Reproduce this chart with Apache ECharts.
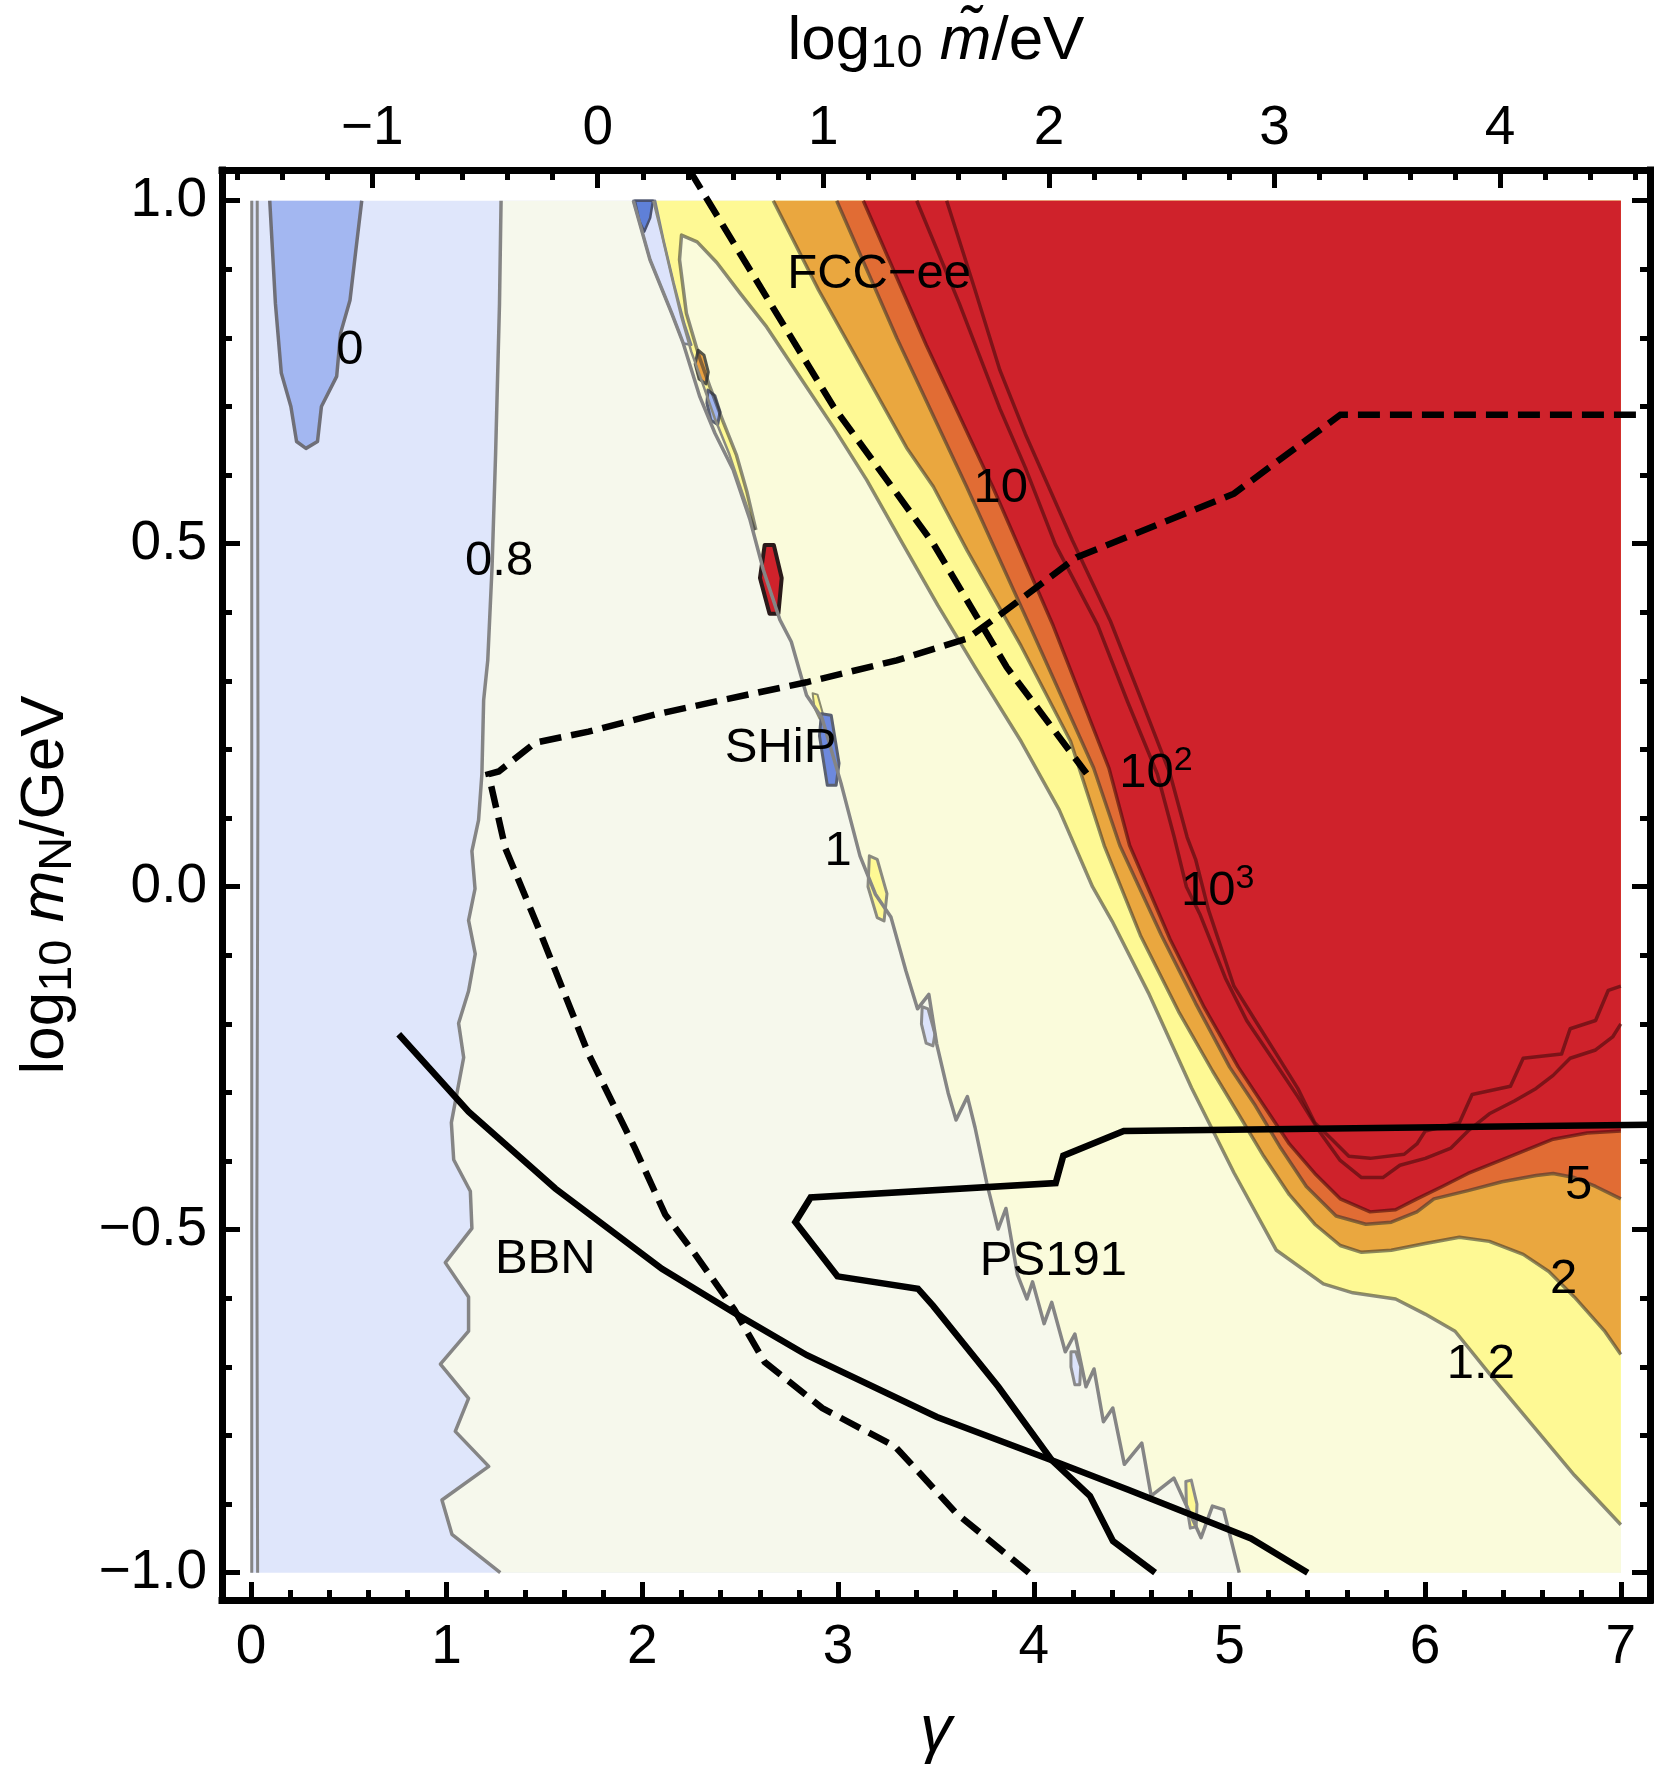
<!DOCTYPE html>
<html>
<head>
<meta charset="utf-8">
<script src="https://cdn.jsdelivr.net/npm/echarts@6.0.0/dist/echarts.min.js"></script>
<style>
html, body { margin: 0; padding: 0; background: #fff; }
#chart { width: 1667px; height: 1778px; }
</style>
</head>
<body>
<div id="chart"></div>
<script>
// axis ranges (frame edges, in data units)
var gammaRange = [-0.148, 7.149];
var logmRange = [-1.0398, 1.0448];
// top axis: gamma = topZero + topStep * log10(m~/eV)
var topZero = 1.772, topStep = 1.1528;

var xMajorTicks = [0, 1, 2, 3, 4, 5, 6, 7];
var yMajorTicks = [-1, -0.5, 0, 0.5, 1];
var topMajorTicks = [-1, 0, 1, 2, 3, 4];

// data box of the contour plot
var box = [[0, 1], [7, 1], [7, -1], [0, -1]];

// contour boundaries: [gamma, log10 mN]
var tongue0 = [[0.096,1.0],[0.125,0.85],[0.155,0.749],[0.204,0.70],[0.233,0.649],[0.281,0.639],[0.34,0.649],[0.36,0.70],[0.438,0.744],[0.458,0.807],[0.506,0.855],[0.536,0.928],[0.566,1.0]];
var line08 = [[1.278,1.0],[1.27,0.85],[1.25,0.63],[1.232,0.466],[1.21,0.33],[1.189,0.272],[1.18,0.164],[1.163,0.097],[1.129,0.052],[1.145,-0.003],[1.112,-0.049],[1.146,-0.098],[1.112,-0.152],[1.061,-0.199],[1.087,-0.249],[1.024,-0.344],[1.036,-0.398],[1.121,-0.444],[1.129,-0.498],[0.993,-0.548],[1.112,-0.598],[1.112,-0.648],[0.968,-0.696],[1.112,-0.746],[1.044,-0.794],[1.215,-0.845],[0.976,-0.894],[1.027,-0.944],[1.274,-1.0]];
var line1 = [[1.954,1.0],[2.039,0.914],[2.15,0.836],[2.209,0.792],[2.294,0.714],[2.371,0.661],[2.465,0.607],[2.55,0.535],[2.618,0.462],[2.703,0.389],[2.761,0.357],[2.839,0.279],[2.918,0.246],[3.015,0.151],[3.112,0.045],[3.191,-0.011],[3.27,-0.044],[3.347,-0.123],[3.406,-0.178],[3.464,-0.157],[3.504,-0.229],[3.563,-0.301],[3.603,-0.34],[3.661,-0.306],[3.70,-0.351],[3.76,-0.432],[3.818,-0.499],[3.858,-0.469],[3.916,-0.565],[3.965,-0.601],[3.994,-0.576],[4.053,-0.637],[4.092,-0.606],[4.161,-0.678],[4.21,-0.652],[4.267,-0.729],[4.308,-0.703],[4.356,-0.78],[4.404,-0.76],[4.463,-0.842],[4.552,-0.811],[4.60,-0.888],[4.716,-0.862],[4.855,-0.949],[4.913,-0.903],[4.97,-0.908],[5.05,-1.0]];
var stripRight = [[2.056,1.0],[2.10,0.95],[2.145,0.895],[2.20,0.83],[2.25,0.78],[2.30,0.74],[2.37,0.683],[2.445,0.63],[2.51,0.575],[2.575,0.52]];
var tongueLeft = [[2.20,0.95],[2.19,0.914],[2.225,0.836],[2.29,0.773],[2.345,0.729],[2.41,0.68],[2.48,0.63],[2.535,0.575],[2.58,0.52]];
var line12 = [[2.20,0.95],[2.28,0.94],[2.38,0.91],[2.50,0.865],[2.635,0.816],[2.805,0.743],[2.976,0.67],[3.146,0.593],[3.33,0.50],[3.51,0.41],[3.70,0.32],[3.935,0.212],[4.13,0.112],[4.30,0.0],[4.40,-0.05],[4.59,-0.157],[4.806,-0.293],[5.023,-0.417],[5.24,-0.53],[5.48,-0.579],[5.631,-0.592],[5.849,-0.601],[6.0,-0.623],[6.153,-0.648],[6.326,-0.709],[6.546,-0.784],[6.763,-0.858],[7.0,-0.93]];
var line2 = [[2.669,1.0],[2.90,0.87],[3.129,0.753],[3.35,0.64],[3.487,0.583],[3.66,0.49],[3.935,0.351],[4.188,0.212],[4.36,0.06],[4.545,-0.071],[4.74,-0.182],[4.914,-0.269],[5.045,-0.331],[5.175,-0.393],[5.306,-0.449],[5.436,-0.492],[5.566,-0.523],[5.675,-0.533],[5.827,-0.53],[6.001,-0.52],[6.175,-0.511],[6.328,-0.517],[6.501,-0.536],[6.632,-0.561],[6.762,-0.598],[6.915,-0.647],[7.0,-0.682]];
var line5 = [[2.993,1.0],[3.30,0.80],[3.657,0.583],[3.98,0.38],[4.306,0.173],[4.44,0.06],[4.653,-0.071],[4.827,-0.17],[5.001,-0.263],[5.132,-0.319],[5.262,-0.381],[5.393,-0.437],[5.545,-0.48],[5.697,-0.492],[5.827,-0.489],[5.958,-0.474],[6.045,-0.455],[6.219,-0.443],[6.393,-0.43],[6.567,-0.421],[6.654,-0.418],[6.762,-0.424],[6.871,-0.437],[7.0,-0.455]];
var line10 = [[3.129,1.0],[3.45,0.79],[3.79,0.583],[4.10,0.38],[4.384,0.173],[4.49,0.06],[4.697,-0.077],[4.871,-0.176],[5.045,-0.263],[5.175,-0.319],[5.306,-0.375],[5.436,-0.418],[5.566,-0.455],[5.719,-0.474],[5.849,-0.471],[5.958,-0.455],[6.088,-0.437],[6.219,-0.418],[6.436,-0.393],[6.654,-0.368],[6.828,-0.359],[7.0,-0.356]];
var line100 = [[3.402,1.0],[3.62,0.85],[3.827,0.697],[3.957,0.611],[4.11,0.499],[4.327,0.381],[4.479,0.27],[4.632,0.164],[4.718,0.072],[4.78,0.0],[4.849,-0.04],[4.979,-0.133],[5.088,-0.195],[5.218,-0.25],[5.349,-0.306],[5.458,-0.356],[5.566,-0.399],[5.675,-0.424],[5.784,-0.424],[5.871,-0.406],[6.001,-0.396],[6.132,-0.381],[6.219,-0.356],[6.328,-0.331],[6.458,-0.312],[6.567,-0.294],[6.654,-0.275],[6.741,-0.25],[6.871,-0.238],[6.958,-0.219],[7.0,-0.2]];
var line1000 = [[3.555,1.0],[3.70,0.87],[3.827,0.753],[3.957,0.66],[4.197,0.505],[4.392,0.387],[4.545,0.276],[4.697,0.164],[4.784,0.072],[4.827,0.04],[4.892,-0.033],[5.023,-0.145],[5.132,-0.195],[5.24,-0.244],[5.349,-0.294],[5.436,-0.344],[5.523,-0.368],[5.61,-0.393],[5.719,-0.396],[5.893,-0.39],[5.958,-0.375],[6.001,-0.356],[6.175,-0.344],[6.24,-0.303],[6.436,-0.291],[6.501,-0.25],[6.697,-0.244],[6.741,-0.207],[6.871,-0.195],[6.936,-0.151],[7.0,-0.145]];
var edgeLineA = [[0.004,1.0],[0.004,-1.0]];
var edgeLineB = [[0.032,1.0],[0.036,0.2],[0.03,-0.5],[0.034,-1.0]];

// numerical blobs along the "1" contour
var stripBlue = [[1.954,1.0],[2.065,1.0],[2.11,0.94],[2.16,0.88],[2.215,0.82],[2.25,0.79],[2.209,0.792],[2.15,0.836],[2.039,0.914]];
var blobTopDark = [[1.962,1.0],[2.054,1.0],[2.04,0.975],[2.01,0.955],[1.985,0.97]];
var blobOrange = [[2.285,0.782],[2.315,0.775],[2.337,0.75],[2.325,0.733],[2.29,0.74],[2.27,0.762]];
var blobBlue1 = [[2.335,0.724],[2.37,0.716],[2.397,0.692],[2.385,0.674],[2.35,0.68],[2.33,0.705]];
var blobRed = [[2.625,0.498],[2.672,0.498],[2.712,0.45],[2.695,0.398],[2.65,0.398],[2.601,0.45]];
var blobShipYellow = [[2.87,0.282],[2.895,0.28],[2.925,0.25],[2.905,0.245],[2.88,0.26]];
var blobShip = [[2.915,0.252],[2.965,0.25],[3.005,0.18],[2.99,0.148],[2.945,0.148],[2.905,0.22]];
var blobYellow1 = [[3.16,0.045],[3.2,0.04],[3.25,-0.01],[3.235,-0.05],[3.2,-0.045],[3.153,0.0]];
var blobBlue2 = [[3.43,-0.175],[3.46,-0.178],[3.495,-0.215],[3.485,-0.232],[3.45,-0.228],[3.426,-0.2]];
var blobBlue3 = [[4.19,-0.678],[4.215,-0.678],[4.24,-0.70],[4.235,-0.726],[4.21,-0.726],[4.19,-0.70]];
var blobYellow2 = [[4.777,-0.867],[4.805,-0.865],[4.834,-0.9],[4.83,-0.933],[4.8,-0.935],[4.78,-0.9]];

// experiment curves
var fccDash = [[2.24,1.045],[2.499,0.923],[2.976,0.70],[3.487,0.50],[3.862,0.32],[4.27,0.165]];
var shipDash = [[3.975,-1.0],[3.603,-0.913],[3.408,-0.852],[3.291,-0.816],[2.919,-0.76],[2.625,-0.693],[2.469,-0.616],[2.27,-0.536],[2.117,-0.478],[1.96,-0.38],[1.725,-0.244],[1.47,-0.061],[1.30,0.056],[1.214,0.164],[1.266,0.168],[1.453,0.21],[1.725,0.226],[2.066,0.251],[2.407,0.272],[2.839,0.298],[3.30,0.33],[3.661,0.362],[3.83,0.397],[4.218,0.48],[5.023,0.573],[5.567,0.688],[7.08,0.688]];
var bbnLine = [[0.755,-0.215],[1.112,-0.328],[1.555,-0.44],[2.10,-0.557],[2.469,-0.621],[2.841,-0.683],[3.505,-0.773],[4.092,-0.836],[4.483,-0.879],[5.11,-0.95],[5.40,-1.0]];
var ps191Line = [[7.14,-0.347],[4.46,-0.356],[4.151,-0.392],[4.112,-0.432],[2.86,-0.453],[2.782,-0.489],[2.997,-0.568],[3.408,-0.586],[3.486,-0.611],[3.819,-0.729],[4.092,-0.836],[4.287,-0.888],[4.405,-0.954],[4.62,-1.0]];

var labelData = [
  [0.506, 0.782, '0'],
  [1.268, 0.474, '0.8'],
  [3.0, 0.052, '1'],
  [6.285, -0.697, '1.2'],
  [6.708, -0.573, '2'],
  [6.784, -0.436, '5'],
  [3.832, 0.581, '10'],
  [4.624, 0.165, '{b|10}{p|2}'],
  [4.94, -0.007, '{b|10}{p|3}'],
  [3.21, 0.892, 'FCC\u2212ee'],
  [2.706, 0.202, 'SHiP'],
  [1.504, -0.544, 'BBN'],
  [4.10, -0.547, 'PS191']
];

var FONT = 'Liberation Sans, Arial, Helvetica, sans-serif';

function stepTicks(from, to, step, skip) {
  var out = [];
  for (var v = from; v <= to + 1e-9; v += step) {
    var r = Math.round(v * 10) / 10;
    if (skip.indexOf(r) < 0) out.push(r);
  }
  return out;
}
function minus(s) { return String(s).replace('-', '\u2212'); }

var xMinorTicks = stepTicks(0, 7, 0.2, xMajorTicks);
var yMinorTicks = stepTicks(-1, 1, 0.1, yMajorTicks);
var topMinorTicks = stepTicks(-1.6, 4.6, 0.2, topMajorTicks);

function concatPts() {
  var out = [];
  for (var i = 0; i < arguments.length; i++) out = out.concat(arguments[i]);
  return out;
}

var regions = [
  { pts: box, fill: '#dfe6fb' },
  { pts: tongue0, fill: '#a3b7f1' },
  { pts: concatPts(line08, [[7, -1], [7, 1]]), fill: '#f6f8ec' },
  { pts: concatPts(line1, [[7, -1], [7, 1]]), fill: '#fafbdb' },
  { pts: concatPts(stripRight, tongueLeft.slice().reverse(), line12.slice(1), [[7, 1]]), fill: '#fef994' },
  { pts: concatPts(line2, [[7, 1]]), fill: '#eaa73f' },
  { pts: concatPts(line5, [[7, 1]]), fill: '#e16c34' },
  { pts: concatPts(line10, [[7, 1]]), fill: '#cf222b' },
  { pts: stripBlue, fill: '#dce3fb', stroke: '#7a7f8c', lw: 2.5 },
  { pts: blobTopDark, fill: '#5f80d8', stroke: '#4a5270', lw: 2.5 },
  { pts: blobOrange, fill: '#eaa140', stroke: '#55554a', lw: 3 },
  { pts: blobBlue1, fill: '#9fb4ef', stroke: '#5a6070', lw: 3 },
  { pts: blobRed, fill: '#cf222b', stroke: '#2a1a1a', lw: 4 },
  { pts: blobShipYellow, fill: '#fef994', stroke: '#8a8a70', lw: 2 },
  { pts: blobShip, fill: '#6d89de', stroke: '#5a6070', lw: 3 },
  { pts: blobYellow1, fill: '#fef994', stroke: '#8a8a80', lw: 3 },
  { pts: blobBlue2, fill: '#dce3fb', stroke: '#8a8a8a', lw: 3 },
  { pts: blobBlue3, fill: '#dce3fb', stroke: '#8a8a8a', lw: 3 },
  { pts: blobYellow2, fill: '#fef994', stroke: '#8a8a8a', lw: 3 }
];

function contour(data, color, width) {
  return {
    type: 'line', data: data, showSymbol: false, symbol: 'none', silent: true, z: 3,
    lineStyle: { color: color, width: width, join: 'round' }
  };
}
function curve(data, dashed) {
  return {
    type: 'line', data: data, showSymbol: false, symbol: 'none', silent: true, z: 5,
    lineStyle: { color: '#000', width: 6.5, type: dashed ? [22, 10] : 'solid', join: 'miter' }
  };
}

var lightLine = '#858585';
var darkLine = 'rgba(45,45,45,0.55)';
var redLine = 'rgba(70,10,12,0.6)';

var majorTick = { show: true, inside: true, length: 18, lineStyle: { color: '#000', width: 5 } };
var minorTick = { show: true, inside: true, length: 10, lineStyle: { color: '#000', width: 5 } };
var frameLine = { show: true, onZero: false, lineStyle: { color: '#000', width: 7, cap: 'square' } };

function axisBase(extra) {
  var a = { type: 'value', splitLine: { show: false }, axisLine: { show: false, onZero: false }, axisTick: { show: false }, axisLabel: { show: false } };
  for (var k in extra) a[k] = extra[k];
  return a;
}
function withValues(style, values) {
  var o = {};
  for (var k in style) o[k] = style[k];
  o.customValues = values;
  return o;
}

var titleRich = {
  a: { fontSize: 62, fontFamily: FONT, color: '#000', lineHeight: 72 },
  s: { fontSize: 47, fontFamily: FONT, color: '#000', lineHeight: 33, verticalAlign: 'bottom' },
  i: { fontSize: 62, fontFamily: FONT, fontStyle: 'italic', color: '#000', lineHeight: 72 }
};

var topMin = (gammaRange[0] - topZero) / topStep;
var topMax = (gammaRange[1] - topZero) / topStep;

var option = {
  animation: false,
  backgroundColor: '#fff',
  grid: { left: 222, right: 17, top: 170, bottom: 178, outerBoundsMode: 'none', containLabel: false },
  xAxis: [
    axisBase({
      position: 'bottom', min: gammaRange[0], max: gammaRange[1],
      axisLine: frameLine,
      axisTick: withValues(majorTick, xMajorTicks),
      axisLabel: withValues({ show: true, margin: 20, color: '#000', fontSize: 55, fontFamily: FONT, formatter: function (v) { return minus(v); } }, xMajorTicks),
      name: 'γ', nameLocation: 'middle', nameGap: 100,
      nameTextStyle: { fontSize: 64, fontStyle: 'italic', fontFamily: FONT, color: '#000' }
    }),
    axisBase({ position: 'bottom', min: gammaRange[0], max: gammaRange[1], axisTick: withValues(minorTick, xMinorTicks) }),
    axisBase({
      position: 'top', min: topMin, max: topMax,
      axisLine: frameLine,
      axisTick: withValues(majorTick, topMajorTicks),
      axisLabel: withValues({ show: true, margin: 14, color: '#000', fontSize: 55, fontFamily: FONT, formatter: function (v) { return minus(v); } }, topMajorTicks),
      name: '{a|log}{s|10}{a| }{i|m\u0303}{a|/eV}', nameLocation: 'middle', nameGap: 92,
      nameTextStyle: { rich: titleRich }
    }),
    axisBase({ position: 'top', min: topMin, max: topMax, axisTick: withValues(minorTick, topMinorTicks) })
  ],
  yAxis: [
    axisBase({
      position: 'left', min: logmRange[0], max: logmRange[1],
      axisLine: frameLine,
      axisTick: withValues(majorTick, yMajorTicks),
      axisLabel: withValues({ show: true, margin: 15, color: '#000', fontSize: 55, fontFamily: FONT, formatter: function (v) { return minus(v.toFixed(1)); } }, yMajorTicks),
      name: '{a|log}{s|10}{a| }{i|m}{s|N}{a|/GeV}', nameLocation: 'middle', nameGap: 140, nameRotate: 90,
      nameTextStyle: { rich: titleRich }
    }),
    axisBase({ position: 'left', min: logmRange[0], max: logmRange[1], axisTick: withValues(minorTick, yMinorTicks) }),
    axisBase({ position: 'right', min: logmRange[0], max: logmRange[1], axisLine: frameLine, axisTick: withValues(majorTick, yMajorTicks) }),
    axisBase({ position: 'right', min: logmRange[0], max: logmRange[1], axisTick: withValues(minorTick, yMinorTicks) })
  ],
  series: [
    {
      type: 'custom', silent: true, z: 1,
      data: regions.map(function () { return [1, 0]; }),
      renderItem: function (params, api) {
        var r = regions[params.dataIndex];
        var pts = r.pts.map(function (d) { return api.coord(d); });
        return {
          type: 'polygon',
          shape: { points: pts },
          style: { fill: r.fill, stroke: r.stroke || null, lineWidth: r.lw || 0, lineJoin: 'round' }
        };
      }
    },
    contour(edgeLineA, lightLine, 3),
    contour(edgeLineB, lightLine, 3),
    contour(tongue0, '#6f6f78', 3.5),
    contour(line08, lightLine, 3.5),
    contour(line1, lightLine, 3.5),
    contour(stripRight, '#8a8a80', 2.5),
    contour(concatPts(tongueLeft.slice().reverse(), line12.slice(1)), darkLine, 3.5),
    contour(line2, darkLine, 3.5),
    contour(line5, darkLine, 3.5),
    contour(line10, redLine, 3.5),
    contour(line100, redLine, 3.5),
    contour(line1000, redLine, 3.5),
    curve(fccDash, true),
    curve(shipDash, true),
    curve(bbnLine, false),
    curve(ps191Line, false),
    {
      // contour and experiment labels as plain text elements at data coordinates
      type: 'custom', silent: true, z: 8,
      data: labelData,
      renderItem: function (params, api) {
        var d = labelData[params.dataIndex];
        var p = api.coord([d[0], d[1]]);
        return {
          type: 'text',
          x: p[0], y: p[1],
          style: {
            text: d[2], fill: '#000', fontSize: 49, fontFamily: FONT,
            align: 'center', verticalAlign: 'middle',
            rich: {
              b: { fontSize: 49, fontFamily: FONT, fill: '#000', lineHeight: 60 },
              p: { fontSize: 34, fontFamily: FONT, fill: '#000', lineHeight: 24, verticalAlign: 'top' }
            }
          }
        };
      }
    }
  ]
};

var chart = echarts.init(document.getElementById('chart'), null, { renderer: 'canvas' });
chart.setOption(option);
</script>
</body>
</html>
